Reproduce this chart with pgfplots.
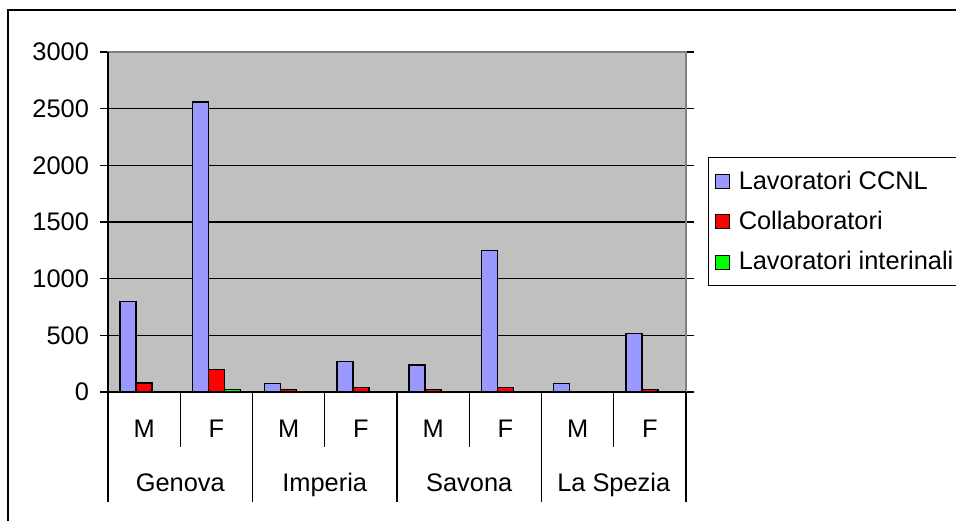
\documentclass[border=0pt]{standalone}
\usepackage{fontspec}
\setmainfont{Liberation Sans}
\usepackage{pgfplots}
\pgfplotsset{compat=1.18}
\definecolor{plotgrey}{RGB}{192,192,192}
\definecolor{edgegrey}{RGB}{128,128,128}
\definecolor{ccnl}{RGB}{153,153,255}
\definecolor{collab}{RGB}{255,0,0}
\definecolor{interin}{RGB}{0,255,0}
\begin{document}
\begin{tikzpicture}[x=1pt, y=1pt, font=\fontsize{12.7}{14.5}\selectfont]
\useasboundingbox (0,0) rectangle (478,-260.5);
\draw[line width=1pt] (4,-260.5) -- (4,-4.75) -- (478,-4.75);
\begin{axis}[
    at={(54pt,-196pt)}, anchor=south west,
    scale only axis, width=289pt, height=170pt,
    xmin=-0.5, xmax=7.5, ymin=0, ymax=3000,
    ybar=0pt, bar width=0.221,
    axis line style={draw=none},
    axis background/.style={fill=plotgrey},
    ymajorgrids, grid style={black, line width=0.6pt},
    ytick={0,500,...,3000},
    tick align=outside,
    major tick length=4pt,
    y tick style={black, line width=0.6pt},
    xtick={0,...,7}, xticklabels={M,F,M,F,M,F,M,F},
    x tick style={draw=none},
    xticklabel style={anchor=base, yshift=-18.5pt},
    yticklabel style={anchor=east, xshift=-2pt},
    /pgf/number format/assume math mode=true,
    /pgf/number format/1000 sep={},
    clip=false,
    legend cell align=left,
    legend style={at={(1.038,0.691)}, anchor=north west,
        draw=black, line width=0.6pt, fill=white,
        inner xsep=3pt, inner ysep=4.5pt, row sep=5.5pt,
        /tikz/every odd column/.append style={column sep=2.5pt}},
    legend image code/.code={\draw[#1, draw=black, line width=0.6pt] (0pt,-3.5pt) rectangle (7pt,3.5pt);},
]
\addplot[fill=ccnl, draw=black, line width=0.75pt] coordinates {
    (0,800) (1,2560) (2,75) (3,270) (4,240) (5,1250) (6,75) (7,515)};
\addplot[fill=collab, draw=black, line width=0.75pt] coordinates {
    (0,80) (1,200) (2,20) (3,40) (4,20) (5,40) (7,20)};
\addplot[fill=interin, draw=black, line width=0.75pt] coordinates {
    (1,20)};
\legend{Lavoratori CCNL, Collaboratori, Lavoratori interinali}
% plot area frame and axis lines
\draw[edgegrey, line width=1pt] (rel axis cs:0,0) rectangle (rel axis cs:1,1);
\draw[black, line width=0.8pt] (rel axis cs:0,1) -- (rel axis cs:0,0) -- (rel axis cs:1,0);
% two-level category separators
\draw[black, line width=0.6pt] (axis cs:0.5,0) -- ++(0pt,-27.5pt);
\draw[black, line width=0.6pt] (axis cs:2.5,0) -- ++(0pt,-27.5pt);
\draw[black, line width=0.6pt] (axis cs:4.5,0) -- ++(0pt,-27.5pt);
\draw[black, line width=0.6pt] (axis cs:6.5,0) -- ++(0pt,-27.5pt);
\draw[black, line width=0.6pt] (axis cs:-0.5,0) -- ++(0pt,-55pt);
\draw[black, line width=0.6pt] (axis cs:1.5,0) -- ++(0pt,-55pt);
\draw[black, line width=0.6pt] (axis cs:3.5,0) -- ++(0pt,-55pt);
\draw[black, line width=0.6pt] (axis cs:5.5,0) -- ++(0pt,-55pt);
\draw[black, line width=0.6pt] (axis cs:7.5,0) -- ++(0pt,-55pt);
\node[anchor=base] at (axis cs:0.5,0) [yshift=-49.5pt] {Genova};
\node[anchor=base] at (axis cs:2.5,0) [yshift=-49.5pt] {Imperia};
\node[anchor=base] at (axis cs:4.5,0) [yshift=-49.5pt] {Savona};
\node[anchor=base] at (axis cs:6.5,0) [yshift=-49.5pt] {La Spezia};
\end{axis}
\end{tikzpicture}
\end{document}
